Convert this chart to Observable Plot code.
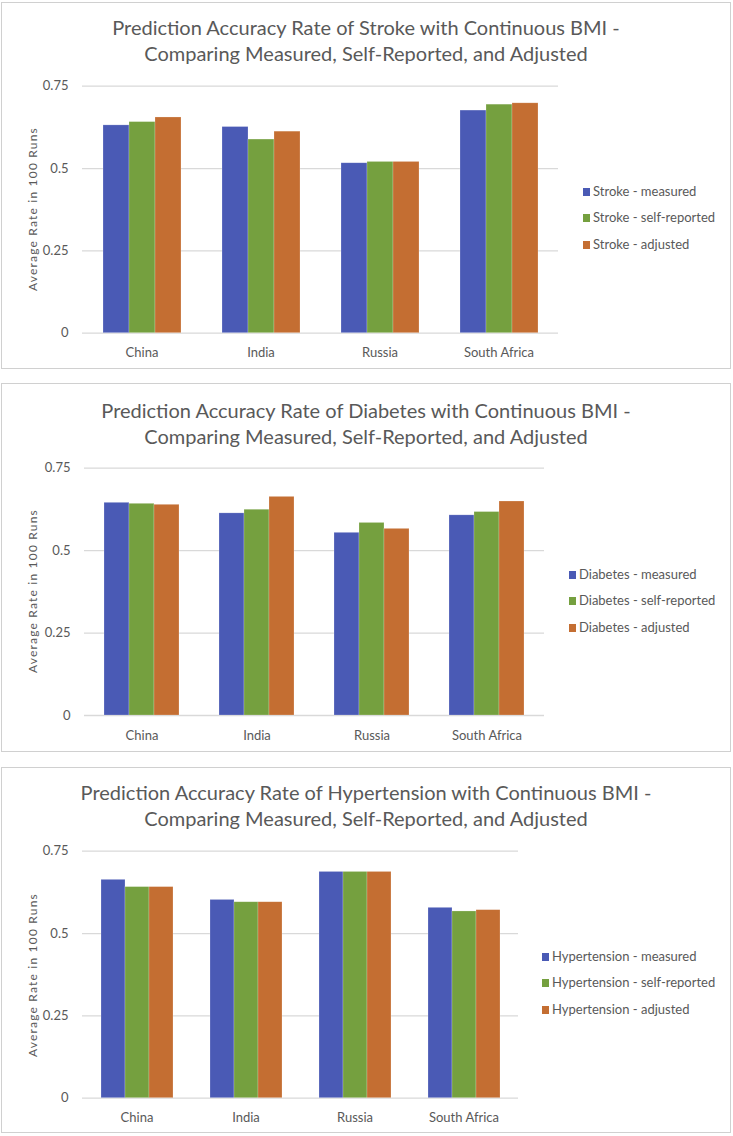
<!DOCTYPE html>
<html>
<head>
<meta charset="utf-8">
<script src="https://cdn.jsdelivr.net/npm/d3@7"></script>
<script src="https://cdn.jsdelivr.net/npm/@observablehq/plot@0.6"></script>
<style>
  html, body { margin: 0; padding: 0; background: #fff; }
  body { width: 733px; height: 1136px; position: relative; overflow: hidden; font-family: Lato, "Open Sans", sans-serif; }
  .panel { position: absolute; left: 1px; width: 730px; box-sizing: border-box; border: 1px solid #d0d0d0; }
  .title { position: absolute; left: 1px; width: 730px; text-align: center; font-size: 20px; line-height: 26.5px; color: #595959; white-space: nowrap; }
  .svgwrap { position: absolute; left: 0; }
  .ylab { position: absolute; font-size: 12px; letter-spacing: 1.2px; color: #595959; white-space: nowrap; transform: translate(-50%, -50%) rotate(-90deg); }
  .legend { position: absolute; font-size: 13px; color: #595959; }
  .legend .row { height: 26.5px; line-height: 26.5px; white-space: nowrap; }
  .legend .sw { display: inline-block; width: 7px; height: 8px; margin-right: 3px; vertical-align: 0px; }
</style>
</head>
<body>
<script>
const countries = ["China", "India", "Russia", "South Africa"];
const measures = ["measured", "self-reported", "adjusted"];
const colors = ["#4a5ab5", "#75a03f", "#c46e32"];
const yTicks = [0, 0.25, 0.5, 0.75];
const yLabel = "Average Rate in 100 Runs";

const strokeTitle = ["Prediction Accuracy Rate of Stroke with Continuous BMI -", "Comparing Measured, Self-Reported, and Adjusted"];
const strokeMeasured     = [0.631, 0.626, 0.516, 0.676];
const strokeSelfReported = [0.641, 0.588, 0.520, 0.694];
const strokeAdjusted     = [0.655, 0.612, 0.520, 0.698];

const diabetesTitle = ["Prediction Accuracy Rate of Diabetes with Continuous BMI -", "Comparing Measured, Self-Reported, and Adjusted"];
const diabetesMeasured     = [0.645, 0.613, 0.554, 0.607];
const diabetesSelfReported = [0.642, 0.624, 0.584, 0.617];
const diabetesAdjusted     = [0.639, 0.663, 0.566, 0.649];

const hyperTitle = ["Prediction Accuracy Rate of Hypertension with Continuous BMI -", "Comparing Measured, Self-Reported, and Adjusted"];
const hyperMeasured     = [0.663, 0.602, 0.687, 0.578];
const hyperSelfReported = [0.641, 0.595, 0.687, 0.567];
const hyperAdjusted     = [0.641, 0.595, 0.687, 0.571];

const panels = [
  { name: "Stroke", title: strokeTitle, series: [strokeMeasured, strokeSelfReported, strokeAdjusted],
    box: [2, 367], titleTop: 13.75, svgTop: 70, svgH: 300, mt: 15.7, mb: 37.3, plotRight: 558,
    ylab: [32, 209], legend: [583, 177.75] },
  { name: "Diabetes", title: diabetesTitle, series: [diabetesMeasured, diabetesSelfReported, diabetesAdjusted],
    box: [383, 369], titleTop: 396.75, svgTop: 452, svgH: 300, mt: 15.7, mb: 37, plotRight: 545,
    ylab: [32, 591], legend: [569, 560.75] },
  { name: "Hypertension", title: hyperTitle, series: [hyperMeasured, hyperSelfReported, hyperAdjusted],
    box: [767, 366], titleTop: 778.75, svgTop: 835, svgH: 297, mt: 15.7, mb: 34.3, plotRight: 518,
    ylab: [32, 975], legend: [542, 942.75] }
];

function el(tag, cls, style, html) {
  const e = document.createElement(tag);
  if (cls) e.className = cls;
  Object.assign(e.style, style || {});
  if (html != null) e.innerHTML = html;
  document.body.appendChild(e);
  return e;
}

for (const p of panels) {
  el("div", "panel", { top: p.box[0] + "px", height: p.box[1] + "px" });
  el("div", "title", { top: p.titleTop + "px" }, p.title[0] + "<br>" + p.title[1]);

  const rows = [];
  countries.forEach((c, i) => measures.forEach((m, j) => rows.push({ country: c, measure: m, value: p.series[j][i] })));

  const width = p.plotRight + 2;
  const chart = Plot.plot({
    width, height: p.svgH,
    marginLeft: 82, marginRight: 2, marginTop: p.mt, marginBottom: p.mb,
    style: { fontFamily: "Lato, 'Open Sans', sans-serif", fontSize: "13px", color: "#595959", background: "transparent", overflow: "visible" },
    fx: { domain: countries, padding: 0, label: null, axis: "bottom", tickSize: 0, tickPadding: 15 },
    x: { domain: measures, paddingInner: 0, paddingOuter: 0.75, axis: null },
    y: { domain: [0, 0.75], ticks: yTicks, tickFormat: d => String(d), tickSize: 0, tickPadding: 14, label: null },
    color: { domain: measures, range: colors },
    marks: [
      Plot.ruleY(yTicks, { stroke: "#d9d9d9", strokeWidth: 1.3 }),
      Plot.barY(rows, { fx: "country", x: "measure", y: "value", fill: "measure", stroke: "#ffffff", strokeOpacity: 0.35, strokeWidth: 0.6 })
    ]
  });
  const wrap = el("div", "svgwrap", { top: p.svgTop + "px" });
  wrap.appendChild(chart);

  el("div", "ylab", { left: p.ylab[0] + "px", top: p.ylab[1] + "px" }, yLabel);

  const lg = el("div", "legend", { left: p.legend[0] + "px", top: p.legend[1] + "px" });
  measures.forEach((m, j) => {
    const r = document.createElement("div");
    r.className = "row";
    r.innerHTML = `<span class="sw" style="background:${colors[j]}"></span>${p.name} - ${m}`;
    lg.appendChild(r);
  });
}
</script>
</body>
</html>
